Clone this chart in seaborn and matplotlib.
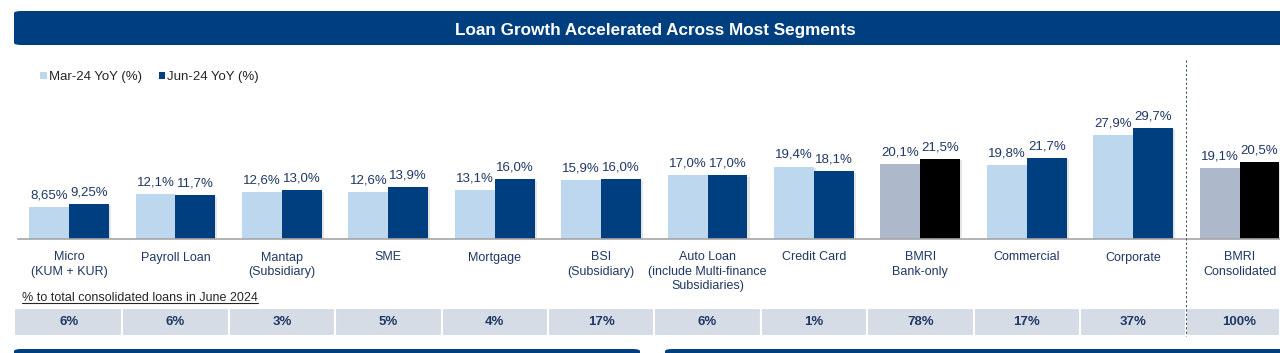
import pandas as pd
import matplotlib
matplotlib.use('Agg')
import matplotlib.pyplot as plt
import matplotlib.patheffects as pe
from matplotlib.patches import FancyBboxPatch, Rectangle, Patch
from matplotlib.lines import Line2D
from matplotlib.transforms import blended_transform_factory
import seaborn as sns

# Data
segments = ['Micro\n(KUM + KUR)', 'Payroll Loan', 'Mantap\n(Subsidiary)', 'SME', 'Mortgage',
            'BSI\n(Subsidiary)', 'Auto Loan\n(include Multi-finance\nSubsidiaries)', 'Credit Card',
            'BMRI\nBank-only', 'Commercial', 'Corporate', 'BMRI\nConsolidated']
mar24 = [8.65, 12.1, 12.6, 12.6, 13.1, 15.9, 17.0, 19.4, 20.1, 19.8, 27.9, 19.1]
jun24 = [9.25, 11.7, 13.0, 13.9, 16.0, 16.0, 17.0, 18.1, 21.5, 21.7, 29.7, 20.5]
mar_labels = ['8,65%', '12,1%', '12,6%', '12,6%', '13,1%', '15,9%', '17,0%', '19,4%',
              '20,1%', '19,8%', '27,9%', '19,1%']
jun_labels = ['9,25%', '11,7%', '13,0%', '13,9%', '16,0%', '16,0%', '17,0%', '18,1%',
              '21,5%', '21,7%', '29,7%', '20,5%']
share = ['6%', '6%', '3%', '5%', '4%', '17%', '6%', '1%', '78%', '17%', '37%', '100%']
series = ['Mar-24 YoY (%)', 'Jun-24 YoY (%)']
highlight = [8, 11]  # BMRI totals drawn in grey / black

NAVY = '#003F7F'
LIGHT = '#BDD7EE'
GREY = '#ADB9CA'
TEXT = '#1F3864'
CELL = '#D6DCE5'

df = pd.DataFrame({
    'segment': segments * 2,
    'value': mar24 + jun24,
    'series': [series[0]] * len(segments) + [series[1]] * len(segments),
})

sns.set_style('white')
plt.rcParams['font.family'] = ['Liberation Sans', 'DejaVu Sans']

W, H = 1280, 353
fig = plt.figure(figsize=(W / 100, H / 100), dpi=100)


def fx(px):
    return px / W


def fy(py):
    return 1 - py / H


# Main axes: baseline at y=239 px, top at 60 px
ax = fig.add_axes([fx(18), fy(239), fx(1280 - 18), (239 - 60) / H])
sns.barplot(data=df, x='segment', y='value', hue='series', palette=[LIGHT, NAVY],
            width=0.75, saturation=1, legend=False, ax=ax)
ax.set_xlim(-0.48, 11.38)
ax.set_ylim(0, 47.9)

shadow = [pe.SimplePatchShadow(offset=(1.5, -1), shadow_rgbFace='#9a9a9a', alpha=0.25), pe.Normal()]
for k, cont in enumerate(ax.containers):
    for i, bar in enumerate(cont):
        bar.set_edgecolor('none')
        bar.set_path_effects(shadow)
        if i in highlight:
            bar.set_facecolor(GREY if k == 0 else 'black')

for cont, labels in zip(ax.containers, [mar_labels, jun_labels]):
    ax.bar_label(cont, labels=labels, padding=4, fontsize=9.5, color=TEXT)

for s in ['top', 'right', 'left']:
    ax.spines[s].set_visible(False)
ax.spines['bottom'].set_color('#A6A6A6')
ax.spines['bottom'].set_linewidth(1.2)
ax.set_yticks([])
ax.set_xlabel('')
ax.set_ylabel('')
ax.tick_params(axis='x', length=0, pad=9, labelsize=9, labelcolor=TEXT)
for t in ax.get_xticklabels():
    t.set_linespacing(1.25)
    t.set_verticalalignment('top')

# Title banner
fig.patches.append(FancyBboxPatch((fx(14), fy(45)), fx(1300 - 14), (45 - 11) / H,
                                  boxstyle='round,pad=0,rounding_size=0.006',
                                  transform=fig.transFigure, facecolor=NAVY, edgecolor='none'))
fig.text(fx(655), fy(30), 'Loan Growth Accelerated Across Most Segments', ha='center', va='center',
         color='white', fontsize=12.3, fontweight='bold')

# Legend
handles = [Patch(facecolor=LIGHT, edgecolor='none'), Patch(facecolor=NAVY, edgecolor='none')]
fig.legend(handles, series, loc='center left', bbox_to_anchor=(fx(40), fy(77)), ncol=2,
           frameon=False, fontsize=9.5, handlelength=0.5, handleheight=0.5,
           handletextpad=0.15, columnspacing=1.3, borderpad=0, borderaxespad=0,
           labelcolor='#262626')

# Dashed separator before consolidated
trans = blended_transform_factory(ax.transData, fig.transFigure)
fig.lines.append(Line2D([10.5, 10.5], [fy(60), fy(336)], transform=trans, color='#44546A',
                        linewidth=0.8, linestyle=(0, (2, 2))))

# Share table
head = fig.text(fx(22), fy(298), '% to total consolidated loans in June 2024', ha='left',
                va='center', fontsize=9, color='#262626')
fig.canvas.draw()
bb = head.get_window_extent().transformed(fig.transFigure.inverted())
fig.lines.append(Line2D([bb.x0, bb.x1], [bb.y0 + 0.004, bb.y0 + 0.004], transform=fig.transFigure,
                        color='#262626', linewidth=0.8))

x_left = ax.transData.inverted().transform((14, 0))[0]
x_right = ax.transData.inverted().transform((1280, 0))[0]
n = len(segments)
for i, val in enumerate(share):
    a = x_left if i == 0 else i - 0.5
    b = x_right if i == n - 1 else i + 0.5
    fig.patches.append(Rectangle((a, fy(336)), b - a, (336 - 308) / H, transform=trans,
                                 facecolor=CELL, edgecolor='white', linewidth=1.5))
    fig.text(i, fy(322), val, transform=trans, ha='center', va='center', fontsize=9.5,
             fontweight='bold', color=TEXT)

# Next-section banners peeking in at the bottom
for x0, x1 in [(14, 640), (665, 1300)]:
    fig.patches.append(FancyBboxPatch((fx(x0), fy(365)), fx(x1 - x0), 16 / H,
                                      boxstyle='round,pad=0,rounding_size=0.006',
                                      transform=fig.transFigure, facecolor=NAVY,
                                      edgecolor='none', clip_on=False))

fig.savefig('out.png', dpi=100, facecolor='white')
